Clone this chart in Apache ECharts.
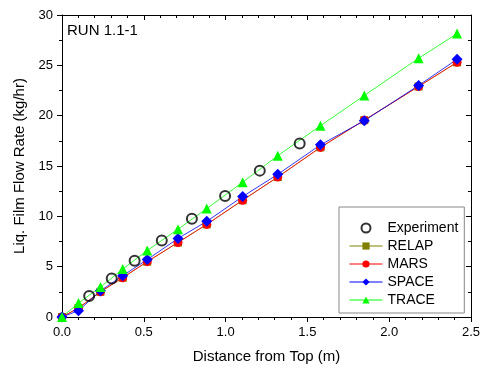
<!DOCTYPE html>
<html><head><meta charset="utf-8">
<script src="https://cdn.jsdelivr.net/npm/echarts@6/dist/echarts.min.js"></script>
<style>html,body{margin:0;padding:0;background:#fff}#c{width:483px;height:369px}</style>
</head><body><div id="c"></div>
<script>
const expX = [0.166, 0.304, 0.444, 0.610, 0.794, 0.997, 1.209, 1.453];
const expY = [2.08, 3.83, 5.58, 7.60, 9.75, 12.02, 14.54, 17.24];
const modelX = [0, 0.101, 0.235, 0.371, 0.521, 0.709, 0.885, 1.104, 1.319, 1.580, 1.848, 2.180, 2.415];
const relapY = [0, 0.9, 2.5, 3.9, 5.5, 7.4, 9.2, 11.6, 13.9, 16.85, 19.55, 22.9, 25.3];
const marsY  = [0, 0.9, 2.5, 3.9, 5.5, 7.4, 9.2, 11.6, 13.9, 16.85, 19.55, 22.9, 25.3];
const spaceY = [0, 0.63, 2.6, 4.1, 5.7, 7.8, 9.5, 11.96, 14.17, 17.1, 19.5, 23.0, 25.6];
const traceY = [0, 1.39, 2.97, 4.76, 6.6, 8.72, 10.77, 13.38, 16.02, 19.0, 22.0, 25.7, 28.15];
const xTicks = [0, 0.5, 1.0, 1.5, 2.0, 2.5];
const yTicks = [0, 5, 10, 15, 20, 25, 30];

const FONT = 'Liberation Sans, Arial, sans-serif';
const pair = (xs, ys) => xs.map((x, i) => [x, ys[i]]);
const chart = echarts.init(document.getElementById('c'), null, {renderer: 'canvas'});

const axisCommon = {
  axisLine: {show: true, onZero: false, lineStyle: {color: '#000', width: 1}},
  splitLine: {show: false}
};
const lineSeries = (name, ys, color, symbol, size) => ({
  name, type: 'line', data: pair(modelX, ys), symbol, symbolSize: size,
  lineStyle: {color, width: 0.8}, itemStyle: {color}, showSymbol: true, animation: false, z: 2
});

chart.setOption({
  animation: false,
  grid: {left: 62, right: 10, top: 15, bottom: 52},
  graphic: [{type: 'text', left: 67, top: 23, style: {text: 'RUN 1.1-1', font: '15px ' + FONT, fill: '#000'}}],
  legend: {
    left: 339, top: 207, orient: 'vertical', itemWidth: 33, itemHeight: 9, itemGap: 4,
    padding: [14, 6, 6, 10], borderColor: '#888', borderWidth: 1, backgroundColor: '#fff',
    lineStyle: {width: 1},
    textStyle: {fontFamily: FONT, fontSize: 14, lineHeight: 14, color: '#000'},
    data: ['Experiment', 'RELAP', 'MARS', 'SPACE', 'TRACE']
  },
  xAxis: [
    Object.assign({}, axisCommon, {
      type: 'value', position: 'bottom', min: 0, max: 2.5, interval: 0.5,
      axisTick: {show: true, inside: false, length: 5, lineStyle: {color: '#000'}},
      minorTick: {show: true, splitNumber: 5, length: 3, lineStyle: {color: '#000'}},
      axisLabel: {fontFamily: FONT, fontSize: 13, color: '#000', margin: 9,
        customValues: xTicks, formatter: v => v.toFixed(1)},
      name: 'Distance from Top (m)', nameLocation: 'middle', nameGap: 32,
      nameTextStyle: {fontFamily: FONT, fontSize: 15, color: '#000'}
    }),
    Object.assign({}, axisCommon, {
      type: 'value', position: 'top', min: 0, max: 2.5, interval: 0.5,
      axisTick: {show: true, inside: true, length: 5, lineStyle: {color: '#000'}},
      minorTick: {show: true, splitNumber: 5, length: 3, lineStyle: {color: '#000'}},
      axisLabel: {show: false}
    })
  ],
  yAxis: [
    Object.assign({}, axisCommon, {
      type: 'value', position: 'left', min: 0, max: 30, interval: 5,
      axisTick: {show: true, inside: false, length: 5, lineStyle: {color: '#000'}},
      minorTick: {show: true, splitNumber: 2, length: 3, lineStyle: {color: '#000'}},
      axisLabel: {fontFamily: FONT, fontSize: 13, color: '#000', margin: 9, customValues: yTicks},
      name: 'Liq. Film Flow Rate (kg/hr)', nameLocation: 'middle', nameGap: 32,
      nameTextStyle: {fontFamily: FONT, fontSize: 15, color: '#000'}
    }),
    Object.assign({}, axisCommon, {
      type: 'value', position: 'right', min: 0, max: 30, interval: 5,
      axisTick: {show: true, inside: true, length: 5, lineStyle: {color: '#000'}},
      minorTick: {show: true, splitNumber: 2, length: 3, lineStyle: {color: '#000'}},
      axisLabel: {show: false}
    })
  ],
  series: [
    lineSeries('RELAP', relapY, '#808000', 'rect', 8),
    lineSeries('MARS', marsY, '#ff0000', 'circle', 9),
    lineSeries('SPACE', spaceY, '#0000ff', 'diamond', 11),
    lineSeries('TRACE', traceY, '#00ff00', 'triangle', 10),
    {name: 'Experiment', type: 'scatter', data: pair(expX, expY), symbol: 'circle', symbolSize: 10,
     itemStyle: {color: 'rgba(0,0,0,0)', borderColor: '#000', borderWidth: 2}, z: 3}
  ]
});
</script></body></html>
